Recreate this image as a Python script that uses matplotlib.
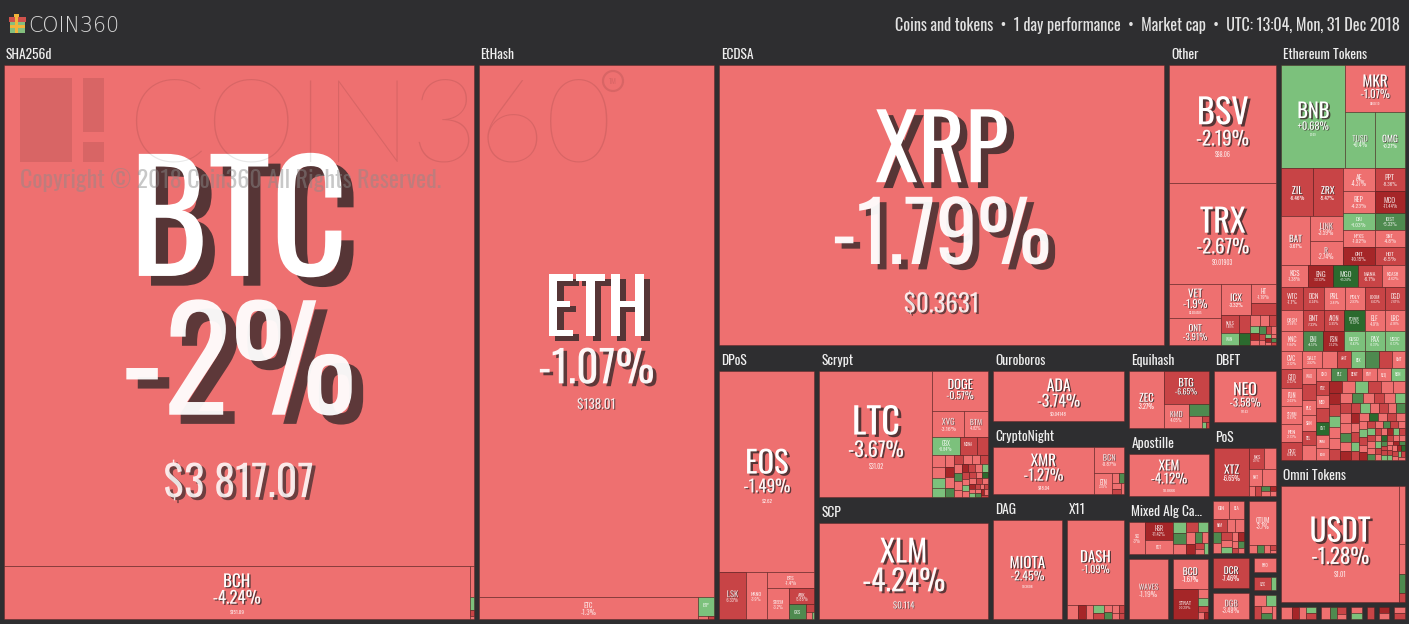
import math
from functools import lru_cache
import matplotlib
matplotlib.use("Agg")
import matplotlib.pyplot as plt
import matplotlib.patheffects as pe
from matplotlib import font_manager as fm
from matplotlib.font_manager import FontProperties
from matplotlib.textpath import TextPath
from matplotlib.patches import Rectangle, Circle

# ---------------------------------------------------------------- data
# main coins: relative tile size (market-cap weight), 1-day change %, price label
coin_names = ['BTC', 'BCH', 'ETH', 'ETC', 'ETP', 'XRP', 'BSV', 'TRX', 'VET', 'ONT',
              'ICX', 'HT', 'RVN', 'NULS', 'MAID', 'WAN', 'WICC', 'EOS', 'LSK', 'NANO',
              'BTS', 'STEEM', 'ARK', 'GXS', 'LTC', 'DOGE', 'XVG', 'BTM', 'XLM', 'ADA',
              'XMR', 'BCN', 'ETN', 'MIOTA', 'DASH', 'ZEC', 'BTG', 'KMD', 'BTCP', 'ZEN',
              'XEM', 'NEO', 'XTZ', 'NXS', 'NAV', 'NXT', 'ARDR', 'SC', 'HSR', 'FCT',
              'WAVES', 'BCD', 'STRAT', 'QTUM', 'DCR', 'DGB', 'PRO', 'XZC', 'XCP', 'USDT',
              'BNB', 'MKR', 'TUSD', 'OMG', 'ZIL', 'ZRX', 'BAT', 'LINK', 'R', 'AE',
              'PPT', 'REP', 'MCO', 'DAI', 'IOST', 'NPXS', 'SNT', 'GNT', 'HOT']
coin_size = [235500, 24751, 125552, 4840, 304, 124926, 12744, 10800, 1768, 1456,
             928, 500, 300, 306, 198, 221, 143, 19104, 1248, 1008,
             800, 682, 400, 255, 14224, 2184, 832, 624, 16128, 6500,
             4800, 780, 396, 6800, 4902, 1925, 1472, 598, 240, 143,
             3321, 3150, 1728, 315, 252, 221, 238, 510, 513, 405,
             2304, 1056, 768, 1232, 1080, 960, 300, 228, 72, 13688,
             6592, 2820, 1680, 1680, 1488, 1440, 1372, 825, 792, 736,
             690, 704, 660, 544, 510, 544, 510, 576, 540]
coin_pct = [-2.00, -4.24, -1.07, -1.30, 1.85, -1.79, -2.19, -2.67, -1.90, -3.91,
            -3.32, -1.19, -5.52, -7.88, -6.41, 1.27, 8.60, -1.49, -6.33, -3.90,
            -1.40, -3.20, -5.88, 3.90, -3.67, -0.57, -3.16, -4.82, -4.24, -3.74,
            -1.27, -0.87, -3.05, -2.45, -1.09, -3.27, -6.65, -4.05, 6.58, -3.90,
            -4.12, -3.58, -6.65, -9.10, -4.10, -3.40, -4.50, -3.00, -11.42, -3.12,
            -1.19, -1.67, -10.29, -3.70, -7.46, -3.48, -4.80, -6.20, 2.30, -1.28,
            0.68, -1.07, 0.40, 0.27, -6.46, -5.47, -3.67, -3.59, -2.74, -4.37,
            -8.36, -4.23, -11.44, 1.03, 5.33, -1.02, -4.80, -10.15, -6.50]
coin_price = ['$3 817.07', '$151.09', '$138.01', '', '', '$0.3631', '$88.06', '$0.01903', '$0.004585', '$0.5517',
              '', '', '', '', '', '', '', '$2.62', '', '',
              '', '', '', '', '$31.02', '$0.002396', '', '', '$0.114', '$0.04148',
              '$48.04', '', '', '$0.3608', '$81.27', '', '$13.51', '', '', '',
              '$0.0666', '$17.63', '', '', '', '', '', '', '', '',
              '', '', '', '', '', '', '', '', '', '$1.01',
              '$6.09', '$460.10', '', '', '', '', '', '', '', '',
              '', '', '', '', '', '', '', '', '']

# small coins shown as mosaics (names, relative size, 1-day change %)
sha_names = ['NMC', 'PPC', 'EMC', 'UNO']
sha_size = [120, 50, 25, 12]
sha_pct = [-3.1, 1.8, -7.5, -2.0]

eth_names = ['UBQ', 'EXP']
eth_size = [28, 20]
eth_pct = [-4.6, -9.8]

other_names = 'NAS IOTX AOA GXC MOAC DGTX TOMO SERO CNN HPB SEELE ACT YOYOW BCX NKN EOSDAC CET'.split()
other_size = [110, 95, 80, 70, 60, 55, 50, 45, 40, 36, 32, 28, 26, 24, 22, 20, 18]
other_pct = [-3.2, -4.1, -7.6, 2.2, -11.3, -3.3, 6.1, -6.4, -2.9, -8.7, -3.4, 1.6, -4.5, -12.1, -3.0, 4.4, -5.7]

dpos_names = ['SHIFT', 'RISE', 'OXY']
dpos_size = [60, 40, 20]
dpos_pct = [-9.3, -4.2, 2.0]

scrypt_names = ('GBX MONA SYS EMC2 VIA FTC NLG XMY DGC GAME CLAM LCC PINK BTA MEC SXC WDC TIPS NYAN GLD '
                'CDN ZET FLO POT RDD AUR SMC CANN XJO EAC MOON PXC NOTE DIME I0C BTB DVC IFC TAG XPM '
                'HYP BITB ORB DMD').split()
scrypt_size = [494, 312, 192, 150, 140, 130, 120, 110, 100, 95, 90, 85, 80, 75, 70, 66, 62, 58, 55, 52,
               49, 46, 44, 42, 40, 38, 36, 34, 32, 30, 28, 26, 25, 24, 23, 22, 21, 20, 20, 19,
               60, 55, 50, 48]
scrypt_pct = [0.84, -6.59, -7.2, -3.4, -4.1, 2.3, 1.1, -3.0, -12.1, -4.4, 6.4, -5.8, -3.3, -2.1, -8.3, -3.9,
              3.1, -4.6, -11.5, -3.2, -6.1, 1.4, -3.7, -9.0, -2.8, 8.7, -4.3, -5.4, -3.1, -12.4, -4.0, 2.5,
              -6.6, -3.5, -7.8, -2.2, 4.9, -10.6, -3.6, -5.0, -2.4, -6.8, 1.9, -4.7]

cn_names = ['XHV', 'AEON', 'LOKI', 'GRFT', 'MSR']
cn_size = [70, 60, 50, 44, 40]
cn_pct = [-2.0, 7.4, -4.4, -6.6, -3.9]

x11_names = 'CRW XMCC SIB CHC BOLI XCD START DNR EXCL MUE MAG'.split()
x11_size = [150, 110, 95, 80, 70, 60, 55, 50, 45, 40, 33]
x11_pct = [-3.6, -12.2, -4.3, 2.1, -7.0, -3.1, 6.6, -4.8, -9.6, -2.6, -5.2]

eq_names = ['ZCL', 'HUSH', 'ZEL']
eq_size = [40, 22, 15]
eq_pct = [-5.2, 1.9, -8.8]

pos_names = ['OK', 'VRC', 'XST', 'BAY', 'GRC', 'NVC']
pos_size = [60, 55, 50, 45, 35, 25]
pos_pct = [-2.9, -7.4, 4.6, -3.3, -11.0, -4.8]

mixed_names = 'SPHR DBIX XSPEC GRS MUSIC KORE ADC DCY SWIFT BSD CCRB HTML'.split()
mixed_size = [150, 140, 130, 125, 110, 95, 85, 75, 65, 55, 50, 42]
mixed_pct = [0.9, 4.2, -3.3, -6.1, 1.5, -4.0, -10.8, 7.7, -3.6, -5.9, -2.7, 2.0]

bcd_names = ['NEBL', 'XAS', 'GBYTE', 'PART', 'SLS']
bcd_size = [90, 70, 60, 40, 28]
bcd_pct = [-4.4, 2.6, -7.7, -3.1, -12.0]

ela_names = 'GIN ELA NIM XEL VTC TRTL BURST DERO PASC BTX XDN FLASH PHR IOC ION SMART'.split()
ela_size = [300, 260, 190, 110, 110, 95, 90, 80, 70, 65, 60, 50, 45, 40, 35, 30]
ela_pct = [-3.45, -4.63, -8.3, -3.9, -3.7, 5.1, -4.2, -7.3, -2.9, 1.8, -4.6, -11.4, -3.0, 3.4, -5.1, -4.0]

qtum_names = ['BLOCK', 'XWC', 'LBC', 'XAUR', 'SLR']
qtum_size = [70, 55, 45, 30, 24]
qtum_pct = [-4.3, 6.0, -3.2, -8.1, -2.5]

misc_names = ['NLC2', 'XMG', 'ECA', 'BTCZ', 'POLIS', 'VIVO']
misc_size = [120, 110, 90, 80, 70, 55]
misc_pct = [-3.9, 2.7, -6.1, -4.4, 7.9, -3.3]

omni_names = ['OMNI', 'SEC', 'SAFEX', 'AMP']
omni_size = [350, 180, 110, 56]
omni_pct = [-4.4, -3.6, 5.2, -6.9]

d1_names, d1_size, d1_pct = ['WCT', 'VST', 'MER', 'TN', 'BEAR'], [120, 90, 80, 60, 57], [-3.4, -11.0, -4.5, 2.8, -6.2]
d2_names, d2_size, d2_pct = ['GAS', 'SWTH', 'THOR', 'OBT'], [110, 80, 60, 47], [-4.0, 6.1, -8.3, -3.1]
d3_names, d3_size, d3_pct = ['BRIDGE', 'OPEN'], [70, 62], [-3.7, 1.5]
d4_names, d4_size, d4_pct = ['BTT'], [77], [-6.0]
d5_names, d5_size, d5_pct = ['WIN', 'SEED'], [60, 61], [-2.8, -10.4]
d6_names, d6_size, d6_pct = ['MOBI', 'REPO'], [70, 62], [-3.2, -5.6]

tok_names = ('KCS ENG MGO MANA NCASH WTC DCN PRL POLY LOOM DGD QASH BNT AION POWR ELF LRC KNC ENJ FSN '
             'GUSD PAX USDC CVC GTO FUN STORM REN QKC SALT '
             'STORJ ANT BIX NEXO MITH CMT WAX THETA RLC SAN TEL ETHOS GNO BLZ DENT PAY REQ RDN POE MED '
             'DATA GVT SNM EDO WINGS TNT QSP VIB AST OST APPC CDT DLT ADX MOD AMB LEND DNT RCN LUN '
             'MDA SNGLS ARN EVX CND BCPT MTH ZAP KEY HST AMN OAX NEU PPP SPANK TAAS DTA UTK CPC ATMI '
             'BLT MFT IHT FOAM BTO ABT RUFF TNB UKG CVT SWM DRGN LALA TRAC INS XYO CEL CRPT BOX HYDRO '
             'ELEC AUTO XNK EKO MVL SRN ZIP AIDOC IDH MWAT OLT LXT NPX GEN DAT LYM TEN CHX COSM DOCK '
             'QUN SHIP FXT PAL MYB XES RVT SXDT BAX VEE').split()
tok_size = [584, 561, 548, 529, 517, 502, 488, 483, 468, 463, 452, 447, 444, 436, 433, 427, 421, 418, 412, 409,
            404, 398, 396, 391, 383, 379, 376, 368, 366, 358,
            262, 251, 247, 239, 236, 228, 225, 219, 214, 211, 205, 203, 198, 196, 191, 187, 184, 179, 176, 172,
            169, 166, 161, 158, 157, 152, 149, 147, 143, 140, 138, 135, 133, 129, 127, 124, 121, 119, 116, 113,
            111, 109, 106, 104, 101, 99, 97, 95, 93, 91, 89, 87, 86, 84, 82, 80, 79, 77, 75, 74,
            72, 71, 69, 67, 66, 64, 63, 61, 60, 58, 57, 55, 54, 53, 51, 50, 49, 47, 46, 45,
            44, 43, 41, 40, 39, 38, 37, 36, 35, 34, 33, 33, 32, 31, 30, 30, 29, 28, 28, 27,
            26, 26, 25, 25, 24, 24, 23, 22, 22, 21]
tok_pct = [-1.38, -13.13, 15.24, -6.10, -4.62, -7.10, -6.24, -3.81, -2.93, -6.02, -7.61, -3.64, -7.33, -5.95,
           9.52, -4.90, -4.18, -1.84, 4.51, -11.20, 0.42, 0.31, 0.12, -3.12, -5.22, -3.03, -4.61, -2.13, -6.84, -3.92,
           -3.4, -6.2, 2.1, 6.3, -8.8, -3.3, -4.1, -5.9, -2.7, -3.5,
           -9.4, -4.4, -2.2, 3.6, -6.6, -3.9, -4.8, 1.4, -7.9, -3.2,
           -5.1, 8.2, -4.5, -2.6, -11.8, -3.7, 2.9, -6.3, -4.0, -3.1,
           -13.5, -5.4, 1.2, -4.7, -2.8, -7.2, -3.4, 5.6, -4.3, -6.9,
           -3.0, 0.9, -8.4, -4.1, -2.5, 7.1, -3.6, -10.2, -5.3, 1.7,
           -4.6, -6.7, -2.9, 3.8, -12.6, -3.8, -5.5, 0.6, -7.4, -4.2,
           9.8, -3.3, -6.0, -2.4, -4.9, 2.4, -8.9, -3.9, -14.2, -5.0,
           -2.1, 4.7, -6.5, -3.5, 1.1, -9.7, -4.4, -2.7, 6.8, -7.0,
           -3.6, -11.1, 2.6, -5.8, -4.0, 0.4, -8.2, -3.2, 11.5, -6.1,
           -4.5, -2.3, 3.3, -9.1, -5.6, 1.9, -3.0, -13.0, 5.0, -4.8,
           -7.7, 2.0, -3.7, -10.9, 8.9, -5.2, -2.6, 1.3, -6.4, -4.1]

TITLE = 'Coins and tokens  \u2022  1 day performance  \u2022  Market cap  \u2022  UTC: 13:04, Mon, 31 Dec 2018'

# ---------------------------------------------------------------- fonts
_entries = fm.fontManager.ttflist
_fnames = {f.name for f in _entries}
FONT, STRETCH = 'DejaVu Sans', 'normal'
for cand in ['Oswald', 'Roboto Condensed', 'Liberation Sans Narrow', 'Open Sans Condensed', 'Arial Narrow']:
    if cand in _fnames:
        FONT = cand
        break
else:
    if any(f.name == 'DejaVu Sans' and 'condensed' in str(f.stretch).lower() for f in _entries):
        STRETCH = 'condensed'
LIGHT = 'DejaVu Sans'
for cand in ['Lato', 'Roboto', 'Open Sans']:
    if cand in _fnames:
        LIGHT = cand
        break
LOGO = 'DejaVu Sans'


def fprop(weight='normal', family=None, size=None):
    fam = family or FONT
    st = STRETCH if fam == FONT else 'normal'
    return FontProperties(family=fam, stretch=st, weight=weight, size=size)


@lru_cache(maxsize=None)
def metrics(s, weight='normal', family=None):
    e = TextPath((0, 0), s, size=100, prop=fprop(weight, family)).get_extents()
    return e.width / 100.0, e.height / 100.0


def capr(weight='normal', family=None):
    return metrics('H', weight, family)[1]


def fitcap(s, maxw, weight='normal', family=None):
    wr = metrics(s, weight, family)[0]
    return maxw * capr(weight, family) / max(wr, 1e-6)


# ---------------------------------------------------------------- tree helpers
def L(name):
    i = coin_names.index(name)
    return {'t': 'leaf', 'name': name, 'size': coin_size[i], 'pct': coin_pct[i], 'price': coin_price[i]}


def H(*c):
    return {'t': 'h', 'c': list(c)}


def V(*c):
    return {'t': 'v', 'c': list(c)}


def G(label, child):
    return {'t': 'g', 'label': label, 'c': [child], 'm': 1.0}


def M(names, sizes, pcts):
    items = sorted(zip(names, sizes, pcts), key=lambda r: -r[1])
    return {'t': 'm', 'items': items}


root = H(
    G('SHA256d', V(L('BTC'), H(L('BCH'), M(sha_names, sha_size, sha_pct)))),
    G('EtHash', V(L('ETH'), H(L('ETC'), V(L('ETP'), M(eth_names, eth_size, eth_pct))))),
    V(
        H(G('ECDSA', L('XRP')),
          G('Other', V(L('BSV'), L('TRX'),
                       H(V(L('VET'), L('ONT')),
                         V(H(L('ICX'), V(L('HT'), L('RVN'))),
                           H(V(H(L('NULS'), L('MAID')), H(L('WAN'), L('WICC'))),
                             M(other_names, other_size, other_pct))))))),
        H(G('DPoS', V(L('EOS'), H(L('LSK'), L('NANO'),
                                  V(L('BTS'), H(L('STEEM'), V(L('ARK'), H(L('GXS'), M(dpos_names, dpos_size, dpos_pct)))))))),
          V(G('Scrypt', H(L('LTC'), V(L('DOGE'), H(L('XVG'), L('BTM')), M(scrypt_names, scrypt_size, scrypt_pct)))),
            G('SCP', L('XLM'))),
          V(G('Ouroboros', L('ADA')),
            G('CryptoNight', H(L('XMR'), V(L('BCN'), H(L('ETN'), M(cn_names, cn_size, cn_pct))))),
            H(G('DAG', L('MIOTA')), G('X11', V(L('DASH'), M(x11_names, x11_size, x11_pct))))),
          V(H(V(G('Equihash', H(L('ZEC'), V(L('BTG'), H(L('KMD'), V(L('BTCP'), H(L('ZEN'), M(eq_names, eq_size, eq_pct))))))),
                G('Apostille', L('XEM'))),
              V(G('DBFT', L('NEO')),
                G('PoS', H(L('XTZ'), V(H(L('NXS'), L('NAV')), H(L('NXT'), L('ARDR')), M(pos_names, pos_size, pos_pct)))))),
            H(V(G('Mixed Alg Ca...', H(L('SC'), V(L('HSR'), L('FCT')), M(mixed_names, mixed_size, mixed_pct))),
                H(G(None, L('WAVES')), G(None, V(L('BCD'), H(L('STRAT'), M(bcd_names, bcd_size, bcd_pct)))))),
              V(H(G(None, M(ela_names, ela_size, ela_pct)), G(None, V(L('QTUM'), M(qtum_names, qtum_size, qtum_pct)))),
                H(V(G(None, L('DCR')), G(None, L('DGB'))),
                  V(G(None, L('PRO')), G(None, H(L('XZC'), L('XCP'))), G(None, M(misc_names, misc_size, misc_pct)))))))),
    ),
    V(G('Ethereum Tokens', V(H(L('BNB'), V(L('MKR'), H(L('TUSD'), L('OMG')))),
                             H(V(H(L('ZIL'), L('ZRX')), H(L('BAT'), V(L('LINK'), L('R')))),
                               V(H(L('AE'), L('PPT')), H(L('REP'), L('MCO')), H(L('DAI'), L('IOST')),
                                 H(L('NPXS'), L('SNT')), H(L('GNT'), L('HOT')))),
                             M(tok_names, tok_size, tok_pct))),
      G('Omni Tokens', H(L('USDT'), M(omni_names, omni_size, omni_pct))),
      H(G(None, M(d1_names, d1_size, d1_pct)), G(None, M(d2_names, d2_size, d2_pct)),
        G(None, M(d3_names, d3_size, d3_pct)), G(None, M(d4_names, d4_size, d4_pct)),
        G(None, M(d5_names, d5_size, d5_pct)), G(None, M(d6_names, d6_size, d6_pct)))),
)

# ---------------------------------------------------------------- layout
GAP = 5.0
HDR = 21.0
ROOT = (4.0, 44.0, 1401.0, 575.0)


def raw(n):
    t = n['t']
    if t == 'leaf':
        return n['size']
    if t == 'm':
        return sum(r[1] for r in n['items'])
    return sum(raw(c) for c in n['c'])


def weight(n):
    t = n['t']
    if t == 'g':
        return n['m'] * raw(n)
    if t in ('h', 'v'):
        return sum(weight(c) for c in n['c'])
    return raw(n)


def worst(row, length):
    s = sum(row)
    return max(max(length * length * r / (s * s), (s * s) / (length * length * r)) for r in row)


def squarify(vals, x, y, w, h):
    tot = sum(vals)
    vals = [v * w * h / tot for v in vals]
    rects = []
    i = 0
    while i < len(vals):
        short = max(min(w, h), 1e-6)
        row = [vals[i]]
        j = i + 1
        while j < len(vals) and worst(row + [vals[j]], short) <= worst(row, short):
            row.append(vals[j])
            j += 1
        s = sum(row)
        if w >= h:
            cw = s / max(h, 1e-6)
            yy = y
            for r in row:
                rh = r / cw
                rects.append((x, yy, cw, rh))
                yy += rh
            x += cw
            w -= cw
        else:
            rh = s / max(w, 1e-6)
            xx = x
            for r in row:
                rw = r / rh
                rects.append((xx, y, rw, rh))
                xx += rw
            y += rh
            h -= rh
        i = j
    return rects


def layout(n, x, y, w, h, ingroup, out, groups):
    t = n['t']
    if t == 'leaf':
        out.append((n['name'], x, y, w, h, n['pct'], n['price']))
    elif t == 'm':
        rs = squarify([r[1] for r in n['items']], x, y, w, h)
        for (nm, sz, pc), (rx, ry, rw, rh) in zip(n['items'], rs):
            out.append((nm, rx, ry, rw, rh, pc, ''))
    elif t == 'g':
        hdr = HDR if n['label'] else 0.0
        n['rect'] = (x, y, w, h)
        n['area'] = max(w * (h - hdr), 1e-3)
        groups.append(n)
        layout(n['c'][0], x, y + hdr, w, h - hdr, True, out, groups)
    else:
        gap = 0.0 if ingroup else GAP
        ws = [weight(c) for c in n['c']]
        tot = sum(ws)
        k = len(ws)
        if t == 'h':
            avail = w - gap * (k - 1)
            xx = x
            for c, cw in zip(n['c'], ws):
                ww = avail * cw / tot
                layout(c, xx, y, ww, h, ingroup, out, groups)
                xx += ww + gap
        else:
            avail = h - gap * (k - 1)
            yy = y
            for c, cw in zip(n['c'], ws):
                hh = avail * cw / tot
                layout(c, x, yy, w, hh, ingroup, out, groups)
                yy += hh + gap


for _ in range(80):
    out, groups = [], []
    layout(root, *ROOT, False, out, groups)
    S = sum(raw(g) for g in groups)
    A = sum(g['area'] for g in groups)
    for g in groups:
        target = raw(g) / S * A
        g['m'] *= (target / g['area']) ** 0.7

out, groups = [], []
layout(root, *ROOT, False, out, groups)

# ---------------------------------------------------------------- drawing
BG = '#2e2e30'
fig = plt.figure(figsize=(14.09, 6.24), dpi=100)
fig.patch.set_facecolor(BG)
ax = fig.add_axes([0, 0, 1, 1])
ax.set_xlim(0, 1409)
ax.set_ylim(624, 0)
ax.axis('off')
ax.set_facecolor(BG)


def tile_color(p):
    if p >= 8:
        return '#2b6a2e'
    if p >= 3:
        return '#4e8a4f'
    if p >= 0:
        return '#7cc17c'
    if p > -5:
        return '#ee7070'
    if p > -10:
        return '#c84446'
    return '#a52628'


def fmt_pct(p):
    return f"{p:+.2f}".rstrip('0').rstrip('.') + '%'


def put(s, x, base, cap, alpha=1.0, shadow=True, weight='normal', ha='center', color='white',
        family=None, z=3):
    fs = cap / capr(weight, family) * 0.72
    prop = fprop(weight, family, fs)
    kw = {}
    if shadow:
        kw['path_effects'] = [pe.withSimplePatchShadow(offset=(0.1 * cap * 0.72, -0.08 * cap * 0.72),
                                                       shadow_rgbFace='#3b2b2c', alpha=0.85 * alpha)]
    ax.text(x, base, s, fontproperties=prop, color=color, alpha=alpha, ha=ha, va='baseline',
            zorder=z, **kw)


def label_tile(name, x, y, w, h, pct, price):
    if w < 12 or h < 9:
        return
    cn = min(0.26 * min(w, h), fitcap(name, 0.5 * w))
    show_p = h >= 15 and w >= 14
    show_r = bool(price) and w >= 40 and h >= 28
    ps = fmt_pct(pct)
    cp = cr = g1 = g2 = 0.0
    if show_p:
        cp = min(cn, fitcap(ps, 0.48 * w))
        g1 = 0.2 * cn
    if show_r:
        cr = min(0.3 * cp, fitcap(price, 0.8 * w))
        g2 = 0.42 * cp
    total = cn + g1 + cp + g2 + cr
    lim = 0.8 * h if show_p else 0.6 * h
    if total > lim:
        s = lim / total
        cn, cp, cr, g1, g2 = cn * s, cp * s, cr * s, g1 * s, g2 * s
        total = lim
    if cn < 3.2:
        return
    top = y + (h - total) / 2 + 0.02 * h
    cx = x + w / 2
    a = 1.0 if cn >= 7 else 0.8
    put(name, cx, top + cn, cn, a, shadow=cn >= 6)
    if show_p and cp >= 2.5:
        put(ps, cx, top + cn + g1 + cp, cp, a * 0.95, shadow=cp >= 6)
    if show_r and cr >= 2.5:
        put(price, cx, top + cn + g1 + cp + g2 + cr, cr, 0.85, shadow=cr >= 6)


for name, x, y, w, h, pct, price in out:
    ax.add_patch(Rectangle((x, y), w, h, facecolor=tile_color(pct), edgecolor=(0.3, 0.1, 0.1, 0.55),
                           linewidth=0.5, zorder=1))
for name, x, y, w, h, pct, price in out:
    label_tile(name, x, y, w, h, pct, price)

for g in groups:
    if g['label']:
        gx, gy, gw, gh = g['rect']
        put(g['label'], gx + 2, gy + 15, 11, shadow=False, weight='bold', ha='left', color='#eeeeee')

# watermark over the BTC tile
WM = dict(facecolor='black', alpha=0.09, linewidth=0, zorder=6)
ax.add_patch(Rectangle((20, 78), 52, 84, **WM))
ax.add_patch(Rectangle((83, 78), 21, 54, **WM))
ax.add_patch(Rectangle((83, 142), 21, 20, **WM))
wm_cap = min(84, fitcap('COIN360', 473, 'light', LIGHT))
put('COIN360', 127, 162, wm_cap, alpha=0.09, shadow=False, weight='light', ha='left', color='black',
    family=LIGHT, z=6)
ax.add_patch(Circle((613, 81), 10, fill=False, edgecolor='black', alpha=0.09, linewidth=1.6, zorder=6))
put('TM', 613, 84.5, 6, alpha=0.09, shadow=False, ha='center', color='black', z=6)
cp_cap = min(20, fitcap('Copyright \u00a9 2018 Coin360 All Rights Reserved.', 420))
put('Copyright \u00a9 2018 Coin360 All Rights Reserved.', 20, 188, cp_cap, alpha=0.47, shadow=False,
    ha='left', color='#8b8b8b', z=6)

# title bar
ax.add_patch(Rectangle((10, 21), 15, 12, facecolor='#84bf7e', linewidth=0, zorder=2))
ax.add_patch(Rectangle((9, 17), 17, 5, facecolor='#d0524c', linewidth=0, zorder=2))
ax.add_patch(Rectangle((15, 17), 3, 16, facecolor='#f3b43a', linewidth=0, zorder=2.1))
ax.add_patch(Rectangle((10, 25), 15, 2.5, facecolor='#f3b43a', linewidth=0, zorder=2.1))
ax.add_patch(Rectangle((14, 13.5), 5, 3.5, facecolor='#f3b43a', linewidth=0, zorder=2.1))
logo_cap = min(17, fitcap('COIN360', 88, 'light', LOGO))
put('COIN360', 28, 32, logo_cap, shadow=False, weight='light', ha='left', color='#d9d9d9', family=LOGO)
t_cap = min(13, fitcap(TITLE, 512))
put(TITLE, 1400, 31, t_cap, shadow=False, ha='right', color='#e2e2e2')

fig.savefig('out.png', dpi=100, facecolor=BG)
